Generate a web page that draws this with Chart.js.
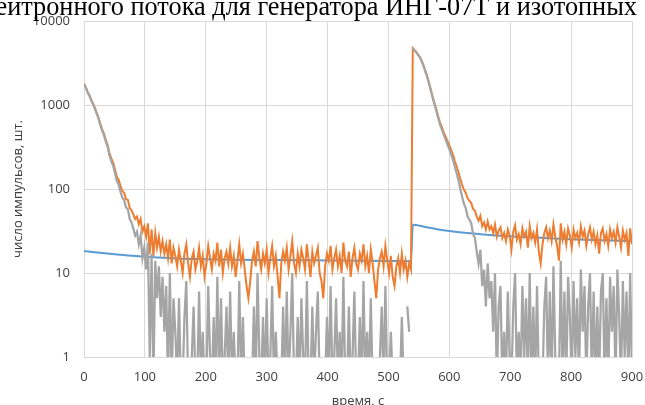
<!DOCTYPE html>
<html>
<head>
<meta charset="utf-8">
<script src="https://cdn.jsdelivr.net/npm/chart.js@4.4.1/dist/chart.umd.min.js"></script>
<style>
  html, body { margin: 0; padding: 0; background: #fff; overflow: hidden; }
  #wrap { width: 645px; height: 405px; overflow: hidden; }
  canvas { display: block; }
</style>
</head>
<body>
<div id="wrap"><canvas id="chart" width="645" height="415"></canvas></div>
<script>
// sampling step of the measured series, seconds
const T_STEP = 3;

// orange: measured counts (one value every 3 s, t = 0..900)
const orange = [
  1790, 1620, 1430, 1300, 1150, 1040, 920, 800, 700, 590,
  510, 450, 380, 330, 265, 230, 205, 170, 140, 128,
  108, 95, 90, 76, 74, 60, 56, 50, 44, 47,
  38, 44, 31, 36, 27, 39, 17, 33, 16, 30,
  20, 27, 18, 24, 17, 22, 15, 25, 13, 20,
  16, 12, 19, 14, 10, 17, 22, 13, 9, 15,
  18, 11, 14, 20, 12, 16, 9, 13, 21, 15,
  11, 17, 14, 23, 12, 19, 10, 15, 18, 13,
  20, 12, 16, 9, 14, 22, 13, 17, 11, 7,
  5, 8, 14, 18, 12, 24, 15, 11, 17, 13,
  19, 10, 15, 21, 12, 16, 9, 5, 13, 18,
  14, 20, 11, 16, 24, 13, 10, 17, 12, 19,
  15, 11, 22, 14, 9, 18, 13, 16, 20, 10,
  8, 5, 12, 17, 14, 21, 11, 15, 19, 12,
  16, 10, 23, 14, 12, 18, 9, 15, 20, 13,
  11, 17, 14, 22, 12, 16, 10, 19, 13, 8,
  5, 11, 15, 18, 12, 21, 14, 10, 16, 9,
  7, 12, 15, 10, 17, 11, 14, 9, 13, 11,
  4740, 4500, 4250, 3950, 3700, 3300, 2900, 2500, 2150, 1800,
  1480, 1220, 1030, 870, 720, 610, 540, 470, 420, 370,
  330, 290, 255, 215, 185, 158, 132, 112, 98, 90,
  78, 72, 68, 58, 55, 47, 42, 48, 36, 40,
  33, 41, 33, 36, 30, 38, 27, 32, 35, 26,
  30, 24, 33, 28, 19, 31, 37, 25, 29, 22,
  34, 27, 31, 20, 36, 26, 30, 23, 33, 18,
  13, 22, 30, 35, 26, 32, 24, 38, 27, 21,
  14, 39, 25, 31, 22, 34, 28, 20, 33, 26,
  30, 23, 36, 27, 32, 21, 29, 35, 25, 31,
  22, 28, 17, 30, 34, 24, 29, 21, 33, 26,
  31, 23, 35, 27, 20, 32, 25, 30, 16, 34,
  22
];

// gray: counts minus background (0.5 = zero/negative, falls below the axis)
const gray = [
  1772, 1602, 1412, 1282, 1133, 1023, 903, 783, 683, 573,
  493, 433, 363, 313, 248, 213, 188, 153, 124, 112,
  92, 79, 74, 60, 58, 44, 40, 34, 28, 31,
  22, 28, 15, 20, 11, 23, 1, 17, 0.5, 14,
  5, 12, 3, 9, 2, 7, 0.5, 10, 0.5, 5,
  2, 0.5, 5, 0.5, 0.5, 3, 8, 0.5, 0.5, 1,
  4, 0.5, 0.5, 6, 0.5, 2, 0.5, 0.5, 7, 1,
  0.5, 3, 0.5, 9, 0.5, 5, 0.5, 1, 4, 0.5,
  6, 0.5, 2, 0.5, 0.5, 8, 0.5, 3, 0.5, 0.5,
  0.5, 0.5, 0.5, 4, 0.5, 10, 1, 0.5, 3, 0.5,
  5, 0.5, 1, 7, 0.5, 2, 0.5, 0.5, 0.5, 4,
  0.5, 6, 0.5, 2, 10, 0.5, 0.5, 3, 0.5, 5,
  1, 0.5, 8, 0.5, 0.5, 4, 0.5, 2, 6, 0.5,
  0.5, 0.5, 0.5, 3, 0.5, 7, 0.5, 1, 5, 0.5,
  2, 0.5, 9, 0.5, 0.5, 4, 0.5, 1, 6, 0.5,
  0.5, 3, 0.5, 8, 0.5, 2, 0.5, 5, 0.5, 0.5,
  0.5, 0.5, 1, 4, 0.5, 7, 0.5, 0.5, 2, 0.5,
  0.5, 0.5, 1, 0.5, 3, 0.5, null, 4, 2, null,
  4740, 4463, 4213, 3913, 3663, 3263, 2863, 2463, 2113, 1763,
  1443, 1185, 995, 835, 686, 576, 506, 437, 387, 338,
  298, 259, 224, 184, 154, 127, 101, 81, 67, 59,
  47, 43, 39, 29, 26, 18, 13, 19, 7, 11,
  4, 13, 5, 8, 2, 10, 0.5, 4, 7, 0.5,
  2, 0.5, 6, 1, 0.5, 4, 10, 0.5, 2, 0.5,
  7, 1, 5, 0.5, 10, 0.5, 4, 0.5, 7, 0.5,
  0.5, 0.5, 4, 9, 0.5, 6, 0.5, 12, 1, 0.5,
  0.5, 14, 0.5, 6, 0.5, 9, 3, 0.5, 8, 1,
  5, 0.5, 11, 2, 7, 0.5, 4, 10, 0.5, 6,
  0.5, 4, 0.5, 6, 10, 0.5, 5, 0.5, 9, 2,
  7, 0.5, 11, 3, 0.5, 8, 1, 6, 0.5, 10,
  0.5
];

// blue: background level, smooth
const blueT = [0, 30, 60, 90, 120, 150, 200, 250, 300, 350, 400, 450, 500, 537,
               540, 560, 580, 600, 630, 660, 690, 720, 750, 800, 850, 900];
const blueV = [18.3, 17.3, 16.5, 15.8, 15.3, 14.9, 14.6, 14.4, 14.3, 14.2, 14.1, 14.0, 13.9, 13.8,
               37.5, 35.3, 33.2, 31.6, 29.9, 28.6, 27.6, 26.8, 26.2, 25.3, 24.6, 24.0];

const yTicks = [1, 10, 100, 1000, 10000];

const TITLE = 'нейтронного потока для генератора ИНГ-07Т и изотопных';
const X_TITLE = 'время, с';
const Y_TITLE = 'число импульсов, шт.';

const times = orange.map((_, i) => i * T_STEP);
const tickFont = { family: '"Open Sans", sans-serif', size: 13 };
const textColor = '#404040';
const gridColor = '#d9d9d9';

// title sits above the chart and is cut off by the picture edge
const cutTitle = {
  id: 'cutTitle',
  afterDraw(chart) {
    const ctx = chart.ctx;
    ctx.save();
    ctx.font = '26.3px "Liberation Serif", serif';
    ctx.fillStyle = '#000';
    ctx.textAlign = 'right';
    ctx.textBaseline = 'alphabetic';
    ctx.fillText(TITLE, 637, 15);
    ctx.restore();
  }
};

new Chart(document.getElementById('chart'), {
  type: 'line',
  data: {
    datasets: [
      {
        label: 'gray',
        data: times.map((t, i) => ({ x: t, y: gray[i] })),
        borderColor: '#a5a5a5',
        borderWidth: 2.25,
        pointRadius: 0,
        tension: 0,
        spanGaps: false,
      },
      {
        label: 'orange',
        data: times.map((t, i) => ({ x: t, y: orange[i] })),
        borderColor: '#ed7d31',
        borderWidth: 2,
        pointRadius: 0,
        tension: 0,
      },
      {
        label: 'blue',
        data: blueT.map((t, i) => ({ x: t, y: blueV[i] })),
        borderColor: '#5b9bd5',
        borderWidth: 2,
        pointRadius: 0,
        cubicInterpolationMode: 'monotone',
      },
    ],
  },
  options: {
    responsive: false,
    animation: false,
    layout: { padding: { top: 21, right: 13, left: 0, bottom: 0 } },
    plugins: { legend: { display: false }, tooltip: { enabled: false } },
    scales: {
      x: {
        type: 'linear',
        min: 0,
        max: 900,
        ticks: { stepSize: 100, padding: 12, font: tickFont, color: textColor, maxRotation: 0 },
        grid: { color: gridColor, drawTicks: false },
        border: { color: gridColor },
        title: { display: true, text: X_TITLE, font: tickFont, color: textColor, padding: { top: 0, bottom: 6 } },
        afterFit(s) { s.height = 58; s.paddingLeft = 0; s.paddingRight = 0; },
      },
      y: {
        type: 'logarithmic',
        min: 1,
        max: 10000,
        afterBuildTicks(s) { s.ticks = yTicks.map(v => ({ value: v })); },
        ticks: { padding: 14, font: tickFont, color: textColor, callback: v => String(v) },
        grid: { color: gridColor, drawTicks: false },
        border: { color: gridColor },
        title: { display: true, text: Y_TITLE, font: tickFont, color: textColor, padding: { top: 10, bottom: 0 } },
        afterFit(s) { s.width = 84; s.paddingTop = 0; s.paddingBottom = 0; },
      },
    },
  },
  plugins: [cutTitle],
});
</script>
</body>
</html>
